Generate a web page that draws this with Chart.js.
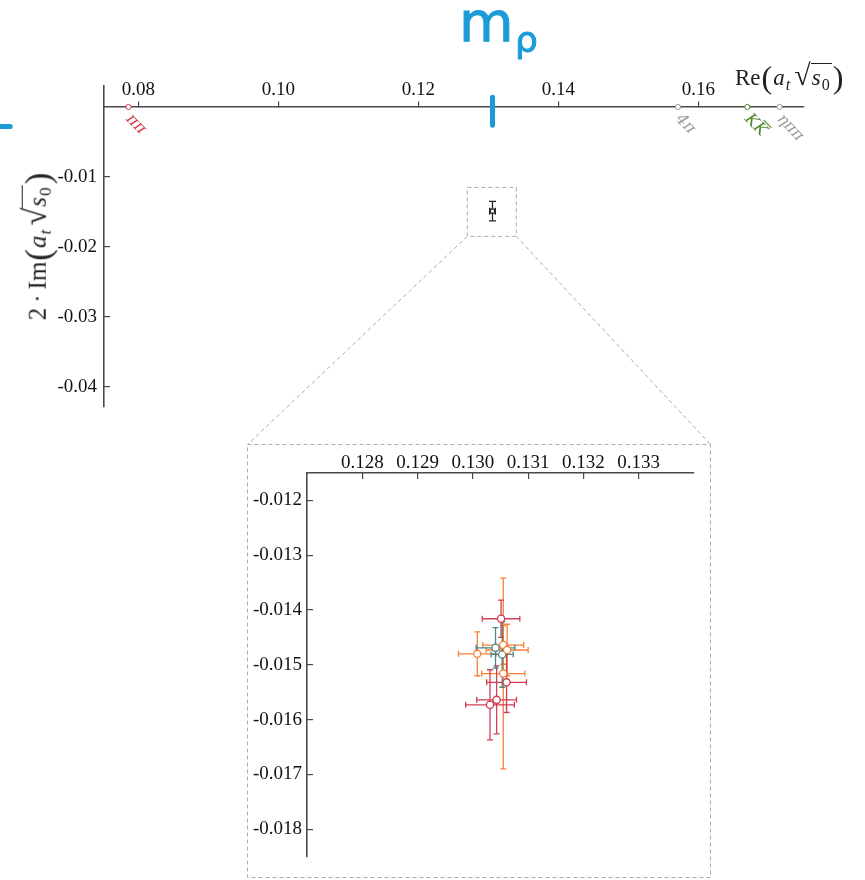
<!DOCTYPE html>
<html>
<head>
<meta charset="utf-8">
<script src="https://cdn.jsdelivr.net/npm/chart.js@4.4.1/dist/chart.umd.min.js"></script>
<style>
  html, body { margin: 0; padding: 0; background: #fff; }
  #wrap { position: relative; width: 865px; height: 880px; overflow: hidden; font-family: "Liberation Serif", "DejaVu Serif", serif; color: #222; }
  #mainChart { position: absolute; left: 0; top: 0; }
  #insetChart { position: absolute; left: 247px; top: 444px; }
  .math { position: absolute; white-space: nowrap; font-size: 23px; line-height: 1; }
  .math sub { font-size: 0.7em; vertical-align: -0.3em; line-height: 0; }
  .math .par { font-size: 1.4em; vertical-align: -0.1em; margin: 0 1px; }
  .math .rad { font-size: 1.3em; margin-left: 3px; }
  .math .ov { border-top: 1.2px solid #222; padding: 1px 2px 0 1px; }
  .math .op { margin: 0 5px; }
  .math i { margin-right: 1px; }
  #xTitle { left: 735px; top: 60px; }
  #yTitle { left: 37px; top: 246px; font-size: 25px; transform: translate(-50%, -50%) rotate(-90deg); }
  .note { position: absolute; color: #1c9bd8; font-family: "DejaVu Sans", sans-serif; line-height: 1; -webkit-text-stroke: 1px #1c9bd8; }
  #noteM { left: 459px; top: -6px; font-size: 56px; }
  #noteRho { left: 515px; top: 22px; font-size: 36px; }
</style>
</head>
<body>
<div id="wrap">
  <canvas id="mainChart" width="865" height="880"></canvas>
  <canvas id="insetChart" width="464" height="435"></canvas>
  <div id="xTitle" class="math">Re<span class="par">(</span><i>a</i><sub><i>t</i></sub><span class="rad">√</span><span class="ov"><i>s</i><sub>0</sub></span><span class="par">)</span></div>
  <div id="yTitle" class="math">2<span class="op">·</span>Im<span class="par">(</span><i>a</i><sub><i>t</i></sub><span class="rad">√</span><span class="ov"><i>s</i><sub>0</sub></span><span class="par">)</span></div>
  <div id="noteM" class="note">m</div>
  <div id="noteRho" class="note">ρ</div>
</div>
<script>
// tick values
const mainXTicks = [0.08, 0.10, 0.12, 0.14, 0.16];
const mainYTicks = [-0.01, -0.02, -0.03, -0.04];
const insetXTicks = [0.128, 0.129, 0.130, 0.131, 0.132, 0.133];
const insetYTicks = [-0.012, -0.013, -0.014, -0.015, -0.016, -0.017, -0.018];

// zoom window (same range in both plots)
const zoomX = [0.127, 0.134];
const zoomY = [-0.0185, -0.0115];

// thresholds on the real axis
const thrX = [0.0786, 0.1571, 0.1670, 0.1716];
const thrLabels = ['ππ', '4π', 'KK', 'ηππ'];
const thrColors = ['#d33a4c', '#9a9a9a', '#4f8a2b', '#9a9a9a'];

// averaged pole in the main plot
const poleX = [0.1306];
const poleY = [-0.0149];
const poleXErr = [0.0004];
const poleYErr = [0.0014];

// rho mass marks
const rhoX = [0.1306, 0.1306];
const rhoY = [0.0014, -0.0026];
const dashX = [0.0603, 0.0617];
const dashY = [-0.0028, -0.0028];

// pole positions, zoomed
const orangeX = [0.13008, 0.13055, 0.13062, 0.13055];
const orangeY = [-0.01480, -0.01464, -0.01473, -0.01516];
const orangeXErr = [0.00034, 0.00037, 0.00038, 0.00039];
const orangeYErr = [0.00040, 0.00035, 0.00047, 0.00174];

const redX = [0.13051, 0.13061, 0.13043, 0.13031];
const redY = [-0.01416, -0.01532, -0.01564, -0.01573];
const redXErr = [0.00034, 0.00036, 0.00036, 0.00044];
const redYErr = [0.00034, 0.00055, 0.00062, 0.00064];

const tealX = [0.13041, 0.13053];
const tealY = [-0.01469, -0.01481];
const tealXErr = [0.00035, 0.00020];
const tealYErr = [0.00037, 0.00060];

const pts = (xs, ys) => xs.map((x, i) => ({x: x, y: ys[i]}));
const serif = 'Liberation Serif';
const axisCol = '#4a4a4a';
const blue = '#1c9bd8';

// error bars drawn under the markers
const errorBars = {
  id: 'errorBars',
  beforeDatasetsDraw(chart) {
    const ctx = chart.ctx, xs = chart.scales.x, ys = chart.scales.y;
    chart.data.datasets.forEach(ds => {
      if (!ds.xErr) return;
      const cap = ds.capSize || 3.5;
      ctx.save();
      ctx.strokeStyle = ds.borderColor;
      ctx.lineWidth = ds.errWidth || 1.2;
      ds.data.forEach((p, j) => {
        const cx = xs.getPixelForValue(p.x), cy = ys.getPixelForValue(p.y);
        const x0 = xs.getPixelForValue(p.x - ds.xErr[j]), x1 = xs.getPixelForValue(p.x + ds.xErr[j]);
        const y0 = ys.getPixelForValue(p.y - ds.yErr[j]), y1 = ys.getPixelForValue(p.y + ds.yErr[j]);
        ctx.beginPath();
        ctx.moveTo(x0, cy); ctx.lineTo(x1, cy);
        ctx.moveTo(x0, cy - cap); ctx.lineTo(x0, cy + cap);
        ctx.moveTo(x1, cy - cap); ctx.lineTo(x1, cy + cap);
        ctx.moveTo(cx, y0); ctx.lineTo(cx, y1);
        ctx.moveTo(cx - cap, y0); ctx.lineTo(cx + cap, y0);
        ctx.moveTo(cx - cap, y1); ctx.lineTo(cx + cap, y1);
        ctx.stroke();
      });
      ctx.restore();
    });
  }
};

// rotated threshold names under the axis
const thrNames = {
  id: 'thrNames',
  afterDatasetsDraw(chart) {
    const ctx = chart.ctx, xs = chart.scales.x, ys = chart.scales.y;
    thrX.forEach((x, i) => {
      ctx.save();
      ctx.translate(xs.getPixelForValue(x) + 5, ys.getPixelForValue(0) + 2);
      ctx.rotate(0.8);
      ctx.font = 'italic 16px "DejaVu Serif"';
      ctx.fillStyle = thrColors[i];
      ctx.strokeStyle = thrColors[i];
      ctx.textBaseline = 'alphabetic';
      ctx.fillText(thrLabels[i], 2, 13);
      if (thrLabels[i] === 'KK') {
        // bar over the second K
        const w1 = ctx.measureText('K').width, w2 = ctx.measureText('KK').width;
        ctx.lineWidth = 1;
        ctx.beginPath();
        ctx.moveTo(2 + w1 + 2, -0.5);
        ctx.lineTo(2 + w2 + 1, -0.5);
        ctx.stroke();
      }
      ctx.restore();
    });
  }
};

// zoom box, its frame and the connecting lines
const zoomFrame = {
  id: 'zoomFrame',
  afterDraw(chart) {
    const ctx = chart.ctx, xs = chart.scales.x, ys = chart.scales.y;
    const bx0 = xs.getPixelForValue(zoomX[0]), bx1 = xs.getPixelForValue(zoomX[1]);
    const by0 = ys.getPixelForValue(zoomY[1]), by1 = ys.getPixelForValue(zoomY[0]);
    const el = document.getElementById('insetChart');
    const fx0 = el.offsetLeft + 0.5, fy0 = el.offsetTop + 0.5;
    const fx1 = el.offsetLeft + el.width - 0.5, fy1 = el.offsetTop + el.height - 1.5;
    ctx.save();
    ctx.strokeStyle = '#ababab';
    ctx.lineWidth = 1;
    ctx.setLineDash([4, 3]);
    ctx.strokeRect(bx0, by0, bx1 - bx0, by1 - by0);
    ctx.strokeRect(fx0, fy0, fx1 - fx0, fy1 - fy0);
    ctx.beginPath();
    ctx.moveTo(bx0, by1); ctx.lineTo(fx0, fy0);
    ctx.moveTo(bx1, by1); ctx.lineTo(fx1, fy0);
    ctx.stroke();
    ctx.restore();
  }
};

const tickFont = {family: serif, size: 19};

new Chart('mainChart', {
  type: 'scatter',
  data: {
    datasets: [
      {
        data: pts(thrX, thrX.map(() => 0)),
        pointRadius: 2.6, pointBorderWidth: 1,
        pointBackgroundColor: '#fff', pointBorderColor: thrColors, borderColor: thrColors
      },
      {
        data: pts(poleX, poleY), xErr: poleXErr, yErr: poleYErr, capSize: 3.5, errWidth: 1.3,
        pointStyle: 'rect', pointRadius: 2.8, pointBorderWidth: 1.2,
        pointBackgroundColor: '#fff', borderColor: '#222', pointBorderColor: '#222'
      },
      {
        data: pts(rhoX, rhoY), showLine: true, borderColor: blue, borderWidth: 5,
        borderCapStyle: 'round', pointRadius: 0
      },
      {
        data: pts(dashX, dashY), showLine: true, borderColor: blue, borderWidth: 5,
        borderCapStyle: 'round', pointRadius: 0, clip: false
      }
    ]
  },
  options: {
    responsive: false,
    animation: false,
    layout: {padding: {left: 0, top: 86, right: 61, bottom: 473}},
    plugins: {legend: {display: false}, tooltip: {enabled: false}},
    scales: {
      x: {
        type: 'linear', min: 0.0751, max: 0.1751, position: {y: 0},
        afterBuildTicks: s => { s.ticks = mainXTicks.map(v => ({value: v})); },
        grid: {drawOnChartArea: false, tickLength: -6, color: axisCol, lineWidth: 1.2},
        border: {color: axisCol, width: 1.6},
        ticks: {padding: -22.4, color: '#111', font: tickFont, maxRotation: 0, autoSkip: false,
                callback: v => v.toFixed(2)}
      },
      y: {
        type: 'linear', min: -0.0429, max: 0.003, position: 'left',
        afterFit: s => { s.width = 104; },
        afterBuildTicks: s => { s.ticks = mainYTicks.map(v => ({value: v})); },
        grid: {drawOnChartArea: false, tickLength: -6, color: axisCol, lineWidth: 1.2},
        border: {color: axisCol, width: 1.6},
        ticks: {padding: 13, color: '#111', font: tickFont, autoSkip: false,
                callback: v => v.toFixed(2)}
      }
    }
  },
  plugins: [errorBars, thrNames, zoomFrame]
});

const pointSet = (xs, ys, xe, ye, col) => ({
  data: pts(xs, ys), xErr: xe, yErr: ye, capSize: 3, errWidth: 1.3,
  pointRadius: 3.6, pointBorderWidth: 1.3,
  pointBackgroundColor: '#fff', borderColor: col, pointBorderColor: col
});

new Chart('insetChart', {
  type: 'scatter',
  data: {
    datasets: [
      pointSet(orangeX, orangeY, orangeXErr, orangeYErr, 'rgba(245,118,38,0.92)'),
      pointSet(redX, redY, redXErr, redYErr, 'rgba(204,48,72,0.92)'),
      pointSet(tealX, tealY, tealXErr, tealYErr, 'rgba(58,128,128,0.92)')
    ]
  },
  options: {
    responsive: false,
    animation: false,
    layout: {padding: {left: 0, top: 0, right: 17, bottom: 19}},
    plugins: {legend: {display: false}, tooltip: {enabled: false}},
    scales: {
      x: {
        type: 'linear', min: zoomX[0], max: zoomX[1], position: 'top',
        afterFit: s => { s.height = 29; },
        afterBuildTicks: s => { s.ticks = insetXTicks.map(v => ({value: v})); },
        grid: {drawOnChartArea: false, tickLength: -6, color: axisCol, lineWidth: 1.2},
        border: {color: axisCol, width: 1.6},
        ticks: {padding: 4.3, color: '#111', font: tickFont, maxRotation: 0, autoSkip: false,
                callback: v => v.toFixed(3)}
      },
      y: {
        type: 'linear', min: zoomY[0], max: zoomY[1], position: 'left',
        afterFit: s => { s.width = 60; },
        afterBuildTicks: s => { s.ticks = insetYTicks.map(v => ({value: v})); },
        grid: {drawOnChartArea: false, tickLength: -6, color: axisCol, lineWidth: 1.2},
        border: {color: axisCol, width: 1.6},
        ticks: {padding: 11, color: '#111', font: tickFont, autoSkip: false,
                callback: v => v.toFixed(3)}
      }
    }
  },
  plugins: [errorBars]
});
</script>
</body>
</html>
